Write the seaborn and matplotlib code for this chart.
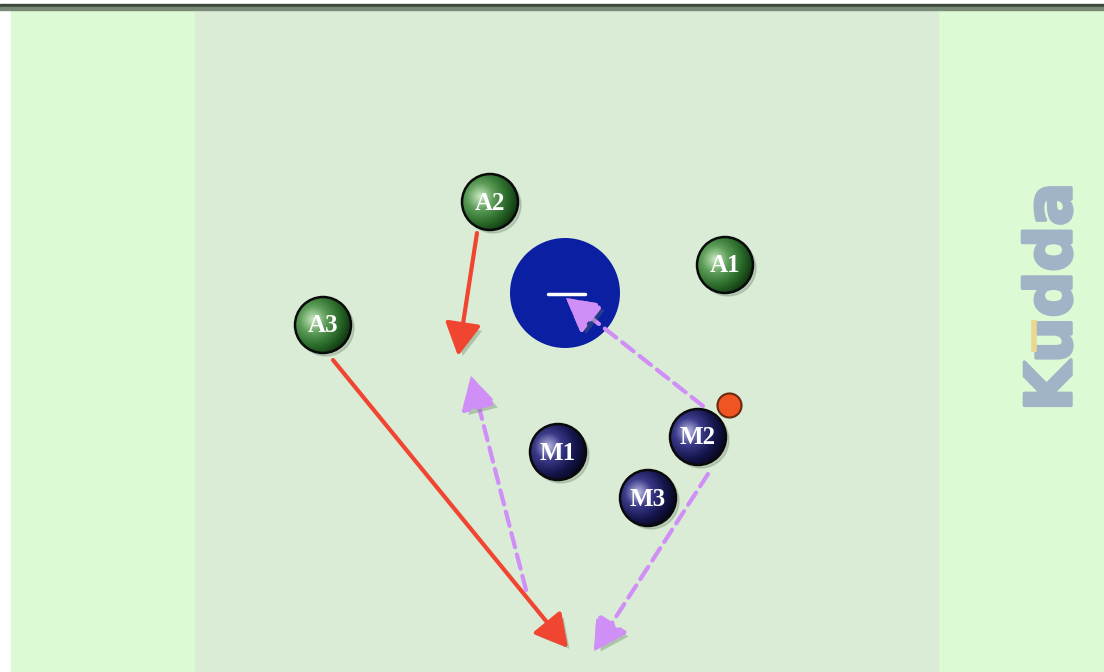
import numpy as np
import pandas as pd
import matplotlib
matplotlib.use("Agg")
import matplotlib.pyplot as plt
import matplotlib.patheffects as pe
from matplotlib.patches import Rectangle, Circle, FancyArrowPatch
from matplotlib.colors import LinearSegmentedColormap
import seaborn as sns

# players (pixel coordinates of the diagram)
player_names = ["A1", "A2", "A3", "M1", "M2", "M3"]
player_x = [725, 490, 323, 558, 698, 648]
player_y = [265, 202, 325, 452, 437, 498]
player_team = ["A", "A", "A", "M", "M", "M"]

# blue zone and ball
zone_x, zone_y = [565], [293]
ball_x, ball_y = [729], [405]

# movement arrows
arrow_x0 = [477, 333, 703, 526, 708]
arrow_y0 = [233, 360, 406, 590, 474]
arrow_x1 = [458, 568, 566, 471, 594]
arrow_y1 = [356, 648, 298, 376, 651]
arrow_kind = ["run", "run", "pass", "pass", "pass"]

players = pd.DataFrame({"label": player_names, "x": player_x, "y": player_y, "team": player_team})

sns.set_theme(style="white")
fig = plt.figure(figsize=(11.04, 6.72), dpi=100)
ax = fig.add_axes([0, 0, 1, 1])
ax.set_xlim(0, 1104)
ax.set_ylim(672, 0)
ax.axis("off")
fig.patch.set_facecolor("white")

# field background
ax.add_patch(Rectangle((11, 9), 1093, 663, color="#dcfad4", zorder=0))
ax.add_patch(Rectangle((195, 9), 743, 663, color="#daecd6", zorder=0))
ax.add_patch(Rectangle((0, 4), 1104, 3, color="#3e4a3e", zorder=1))
ax.add_patch(Rectangle((0, 7), 1104, 3, color="#7a8a78", zorder=1))

# logo
logo = ax.text(1053, 297, "Kudda", rotation=90, ha="center", va="center",
               fontsize=46, fontweight="heavy", color="#a0b3c7", family="DejaVu Sans", zorder=1)
logo.set_path_effects([pe.withStroke(linewidth=2.5, foreground="#a0b3c7")])
ax.plot([1034, 1034], [320, 352], color="#e8d890", lw=4, solid_capstyle="butt", zorder=2)

# blue zone
sns.scatterplot(x=zone_x, y=zone_y, s=6273, color="#0b1fa3", edgecolor="none",
                ax=ax, legend=False, zorder=2)
ax.plot([548, 585], [294, 294], color="white", lw=2.5, zorder=3)

# arrows
shadow = [pe.SimplePatchShadow(offset=(3, -3), shadow_rgbFace="#5a7a5a", alpha=0.35), pe.Normal()]
for x0, y0, x1, y1, kind in zip(arrow_x0, arrow_y0, arrow_x1, arrow_y1, arrow_kind):
    if kind == "run":
        col, ls = "#f04530", "-"
    else:
        col, ls = "#d08ff7", (0, (3.5, 1.8))
    arr = FancyArrowPatch((x0, y0), (x1, y1), arrowstyle="-|>,head_length=1.0,head_width=0.55",
                          mutation_scale=20, color=col, lw=3, linestyle=ls,
                          shrinkA=0, shrinkB=0, zorder=4)
    arr.set_path_effects(shadow)
    ax.add_patch(arr)
    # solid head over dashed line
    if kind == "pass":
        head = FancyArrowPatch((x0 + (x1 - x0) * 0.9, y0 + (y1 - y0) * 0.9), (x1, y1),
                               arrowstyle="-|>,head_length=1.0,head_width=0.55",
                               mutation_scale=20, color=col, lw=0.1, shrinkA=0, shrinkB=0, zorder=4)
        ax.add_patch(head)

# players as shaded spheres
cmaps = {
    "A": LinearSegmentedColormap.from_list("g", ["#c8e8c0", "#5c9c58", "#2a6a2a", "#0c2e0c"]),
    "M": LinearSegmentedColormap.from_list("m", ["#b8b8e0", "#3a3a8a", "#16164e", "#050518"]),
}
r = 28
gx, gy = np.meshgrid(np.linspace(-1, 1, 120), np.linspace(-1, 1, 120))
shade = np.clip(np.hypot(gx + 0.35, gy + 0.2) / 1.45, 0, 1)
for _, p in players.iterrows():
    sh = Circle((p["x"] + 3, p["y"] + 3), r, color="#7a907a", alpha=0.35, zorder=4.5)
    ax.add_patch(sh)
    im = ax.imshow(shade, cmap=cmaps[p["team"]], extent=(p["x"] - r, p["x"] + r, p["y"] + r, p["y"] - r),
                   origin="upper", zorder=5, interpolation="bilinear")
    clip = Circle((p["x"], p["y"]), r, transform=ax.transData)
    im.set_clip_path(clip)
    ax.add_patch(Circle((p["x"], p["y"]), r, fill=False, ec="#0a0a0a", lw=1.8, zorder=6))
    ax.text(p["x"], p["y"] + 1, p["label"], ha="center", va="center", color="white",
            fontsize=18, fontweight="bold", family="Liberation Serif", zorder=7)

ax.set_xlim(0, 1104)
ax.set_ylim(672, 0)

# ball
sns.scatterplot(x=ball_x, y=ball_y, s=300, color="#ef5522", edgecolor="#6a2a10",
                linewidth=1.5, ax=ax, legend=False, zorder=8)

fig.savefig("out.png", dpi=100)
